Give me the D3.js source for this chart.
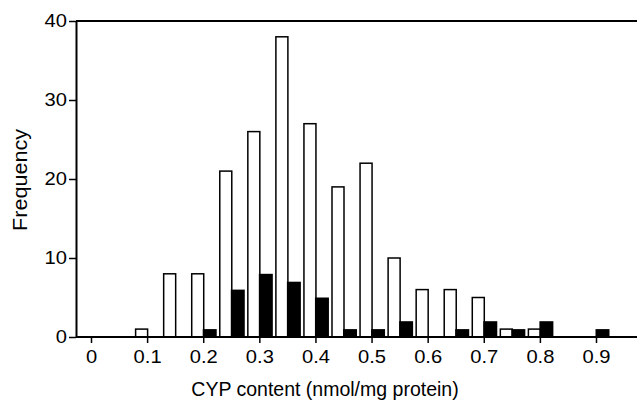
<!DOCTYPE html>
<html>
<head>
<meta charset="utf-8">
<script src="https://cdn.jsdelivr.net/npm/d3@7"></script>
<style>
  body { margin: 0; background: #fff; }
  svg text { font-family: "Liberation Sans", Arial, sans-serif; fill: #000; }
</style>
</head>
<body>
<svg id="chart" width="637" height="401"></svg>
<script>
// bin groups (nmol/mg protein), open bars and filled bars
var groups = [0.1, 0.15, 0.2, 0.25, 0.3, 0.35, 0.4, 0.45, 0.5, 0.55, 0.6, 0.65, 0.7, 0.75, 0.8, 0.85, 0.9];
var openCounts = [1, 8, 8, 21, 26, 38, 27, 19, 22, 10, 6, 6, 5, 1, 1, 0, 0];
var filledCounts = [0, 0, 1, 6, 8, 7, 5, 1, 1, 2, 0, 1, 2, 1, 2, 0, 1];
var xTicks = [0, 0.1, 0.2, 0.3, 0.4, 0.5, 0.6, 0.7, 0.8, 0.9];
var yTicks = [0, 10, 20, 30, 40];

var plotLeft = 76, plotRight = 637, plotTop = 21, plotBottom = 337;

var svg = d3.select("#chart");

var x = d3.scaleLinear().domain([0, 0.9]).range([91, 596]);
var y = d3.scaleLinear().domain([0, 40]).range([plotBottom, plotTop]);

var barW = 13;

// open bars
svg.append("g").selectAll("rect")
    .data(groups.map(function(g, i) { return {g: g, v: openCounts[i]}; }).filter(function(d) { return d.v > 0; }))
    .enter().append("rect")
    .attr("x", function(d) { return x(d.g) - 11.5; })
    .attr("y", function(d) { return y(d.v); })
    .attr("width", barW - 1)
    .attr("height", function(d) { return y(0) - y(d.v); })
    .attr("fill", "#fff")
    .attr("stroke", "#000")
    .attr("stroke-width", 1.5);

// filled bars
svg.append("g").selectAll("rect")
    .data(groups.map(function(g, i) { return {g: g, v: filledCounts[i]}; }).filter(function(d) { return d.v > 0; }))
    .enter().append("rect")
    .attr("x", function(d) { return x(d.g) - 0.5; })
    .attr("y", function(d) { return y(d.v); })
    .attr("width", barW + 1)
    .attr("height", function(d) { return y(0) - y(d.v); })
    .attr("fill", "#000");

// frame lines
svg.append("line").attr("x1", plotLeft).attr("x2", plotRight).attr("y1", plotTop).attr("y2", plotTop)
    .attr("stroke", "#000").attr("stroke-width", 2);
svg.append("line").attr("x1", plotLeft).attr("x2", plotRight).attr("y1", plotBottom).attr("y2", plotBottom)
    .attr("stroke", "#000").attr("stroke-width", 2);

// y axis
var yAxis = svg.append("g")
    .attr("transform", "translate(" + plotLeft + ",0)")
    .call(d3.axisLeft(y).tickValues(yTicks).tickSize(7).tickPadding(2).tickSizeOuter(0));
yAxis.select(".domain").attr("stroke-width", 2);
yAxis.selectAll(".tick line").attr("stroke-width", 1.5);
yAxis.selectAll("text").style("font-size", "18px")
    .attr("transform", "translate(-9,0) scale(1.12,1) translate(9,0)");

// x axis
var xAxis = svg.append("g")
    .attr("transform", "translate(0," + plotBottom + ")")
    .call(d3.axisBottom(x).tickValues(xTicks).tickFormat(function(d) { return d === 0 ? "0" : d3.format(".1f")(d); })
        .tickSize(6).tickPadding(7).tickSizeOuter(0));
xAxis.select(".domain").remove();
xAxis.selectAll(".tick line").attr("stroke-width", 1.5);
xAxis.selectAll("text").style("font-size", "18px").attr("transform", "scale(1.12,1)");

// axis titles
svg.append("text")
    .attr("x", 325).attr("y", 396)
    .attr("text-anchor", "middle")
    .style("font-size", "19.5px")
    .text("CYP content (nmol/mg protein)");

svg.append("text")
    .attr("transform", "translate(27,180) rotate(-90) scale(1.08,1)")
    .attr("text-anchor", "middle")
    .style("font-size", "20px")
    .text("Frequency");
</script>
</body>
</html>
